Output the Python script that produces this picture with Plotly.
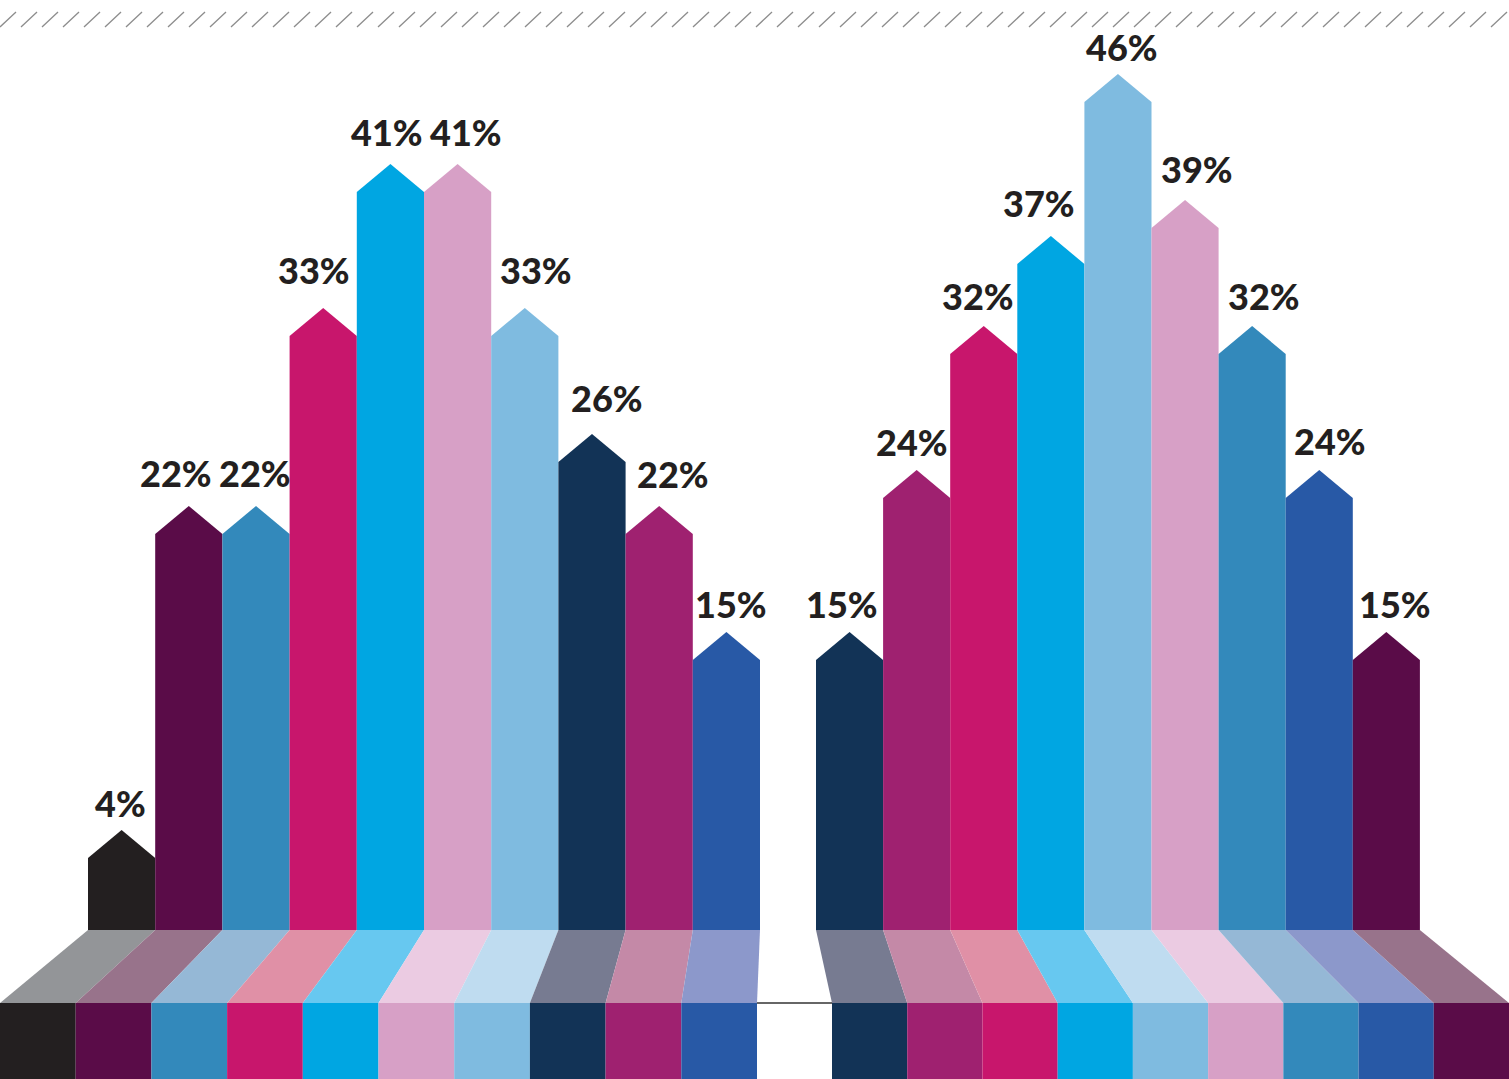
import plotly.graph_objects as go

# ---------------- data ----------------
left_values = [4, 22, 22, 33, 41, 41, 33, 26, 22, 15]
right_values = [15, 24, 32, 37, 46, 39, 32, 24, 15]
left_colors = ["black", "plum", "steel", "magenta", "cyan", "pink", "sky", "navy", "berry", "royal"]
right_colors = ["navy", "berry", "magenta", "cyan", "sky", "pink", "steel", "royal", "plum"]

# ---------------- styles ----------------
PALETTE = {
    "black": ("#231f20", "#939598"),
    "plum": ("#5a0c48", "#98738b"),
    "steel": ("#3389bb", "#95b8d6"),
    "magenta": ("#c8166c", "#e090a6"),
    "cyan": ("#00a6e2", "#67c8f0"),
    "pink": ("#d7a0c6", "#ebcbe2"),
    "sky": ("#7fbbe0", "#bfdcf0"),
    "navy": ("#123356", "#777b91"),
    "berry": ("#9f2170", "#c489a7"),
    "royal": ("#2859a6", "#8c98cb"),
}
# label nudges in pixels (horizontal, and gap between arrow tip and text baseline)
left_label_dx = [-1, -13, -1, -9, -3, 8, 11, 15, 14, 5]
right_label_dx = [-8, -5, -6, -12, 4, 12, 12, 11, 9]
left_label_gap = [12, 18, 18, 23, 17, 17, 23, 21, 17, 13]
right_label_gap = [13, 13, 15, 18, 12, 16, 15, 14, 13]

PX_PER_PCT = 18.0
BASE_PX = 930
H = 1079
W = 1509
TIP = 28 / PX_PER_PCT
FLOOR_MID = -(1003 - BASE_PX) / PX_PER_PCT
FLOOR_BOT = -(H - BASE_PX) / PX_PER_PCT

groups = [
    dict(values=left_values, colors=left_colors, dx=left_label_dx, gap=left_label_gap,
         x0=88, bw=67.2, fx0=0, fw=75.7),
    dict(values=right_values, colors=right_colors, dx=right_label_dx, gap=right_label_gap,
         x0=816, bw=67.1, fx0=832, fw=(W - 832) / 9),
]

fig = go.Figure()
annotations = []

for g in groups:
    for i, (v, c) in enumerate(zip(g["values"], g["colors"])):
        dark, light = PALETTE[c]
        a = g["x0"] + i * g["bw"]
        b = a + g["bw"]
        m = (a + b) / 2
        # arrow bar
        fig.add_trace(go.Scatter(
            x=[a, a, m, b, b, a], y=[0, v, v + TIP, v, 0, 0],
            fill="toself", fillcolor=dark, mode="lines",
            line=dict(width=0, color=dark), hoverinfo="skip", showlegend=False))
        # perspective floor
        fa = g["fx0"] + i * g["fw"]
        fb = fa + g["fw"]
        fig.add_trace(go.Scatter(
            x=[a, b, fb, fa, a], y=[0, 0, FLOOR_MID, FLOOR_MID, 0],
            fill="toself", fillcolor=light, mode="lines",
            line=dict(width=0, color=light), hoverinfo="skip", showlegend=False))
        # front block
        fig.add_trace(go.Scatter(
            x=[fa, fb, fb, fa, fa], y=[FLOOR_MID, FLOOR_MID, FLOOR_BOT, FLOOR_BOT, FLOOR_MID],
            fill="toself", fillcolor=dark, mode="lines",
            line=dict(width=0, color=dark), hoverinfo="skip", showlegend=False))
        annotations.append(dict(
            x=m, y=v + TIP, text=f"{v}%", showarrow=False,
            yanchor="middle", yshift=g["gap"][i] + 15, xshift=g["dx"][i],
            font=dict(family="Lato", size=36, color="#231f20", weight=900)))

# thin floor line between the groups
fig.add_shape(type="line", x0=757, x1=832, y0=FLOOR_MID, y1=FLOOR_MID,
              line=dict(color="#333333", width=1.5))

# slashed top rule
sx, sy = [], []
x = 0
y_lo = (BASE_PX - 27) / PX_PER_PCT
y_hi = (BASE_PX - 12) / PX_PER_PCT
while x < W:
    sx += [x, x + 16, None]
    sy += [y_lo, y_hi, None]
    x += 21
fig.add_trace(go.Scatter(x=sx, y=sy, mode="lines", line=dict(color="#8c8c8c", width=1.3),
                         hoverinfo="skip", showlegend=False))

fig.update_layout(
    width=W, height=H, margin=dict(l=0, r=0, t=0, b=0),
    paper_bgcolor="white", plot_bgcolor="white",
    xaxis=dict(range=[0, W], visible=False, fixedrange=True),
    yaxis=dict(range=[FLOOR_BOT, BASE_PX / PX_PER_PCT], visible=False, fixedrange=True),
    annotations=annotations,
)

fig.write_html("out.html", config={"displayModeBar": False})
